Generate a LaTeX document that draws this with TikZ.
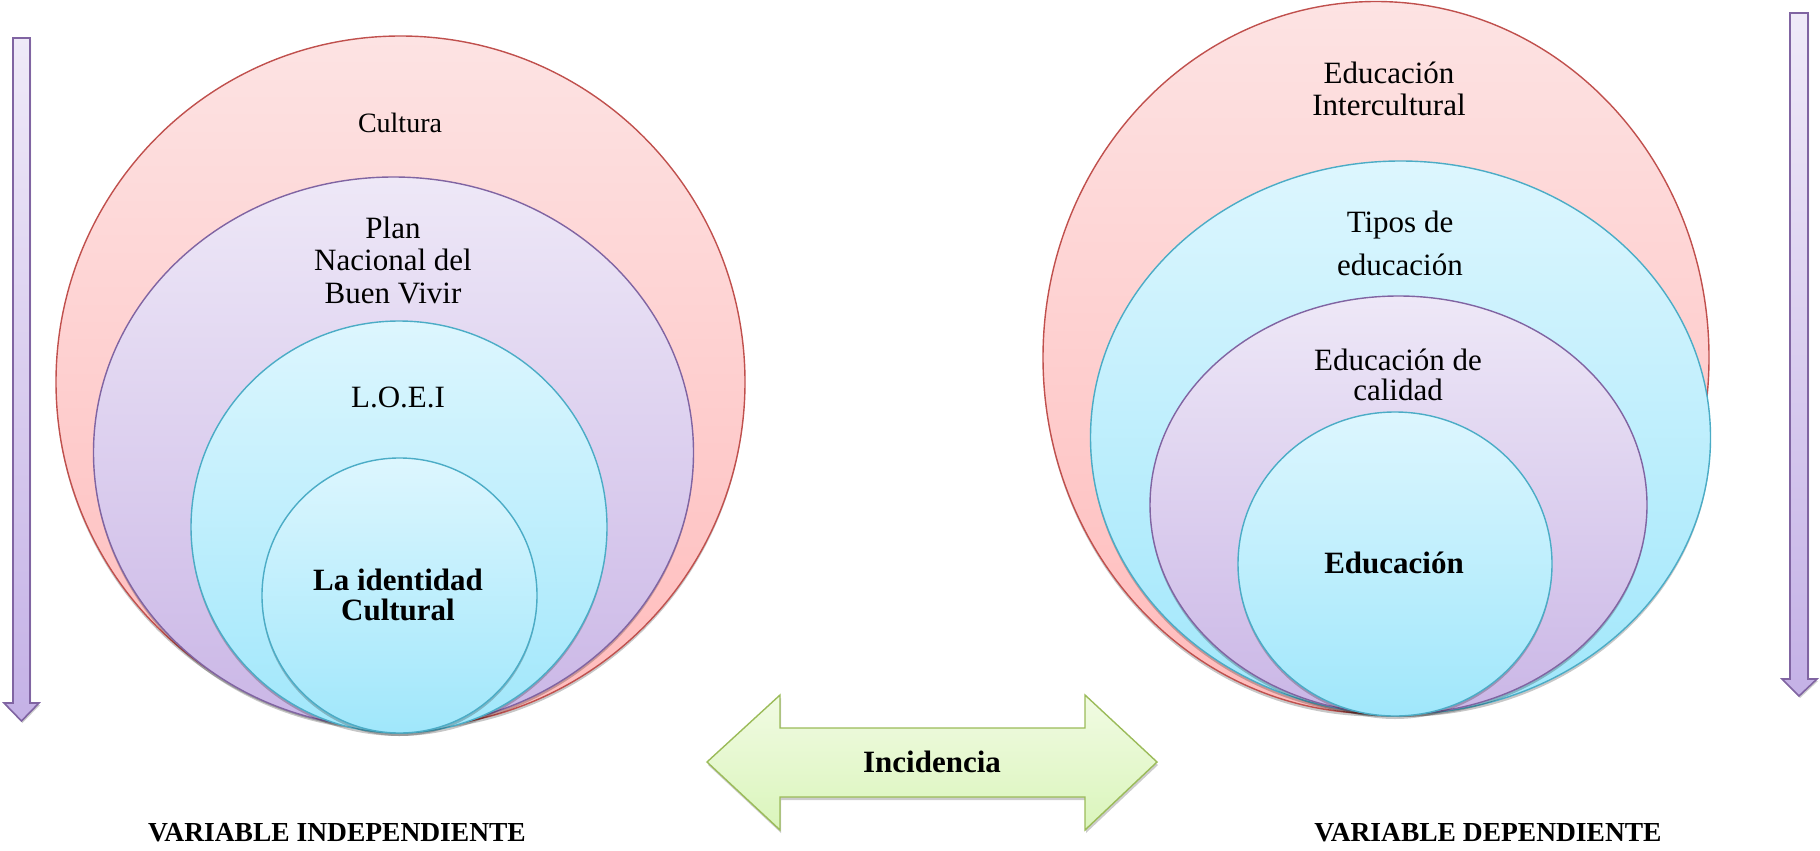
\documentclass[tikz,border=0pt]{standalone}
\usepackage{fontspec}
\setmainfont{Liberation Serif}
\usetikzlibrary{shapes.geometric,shadows}
\definecolor{redB}{HTML}{C0504D}
\definecolor{redT}{HTML}{FDE3E3}
\definecolor{redL}{HTML}{FFBBBB}
\definecolor{purB}{HTML}{8064A2}
\definecolor{purT}{HTML}{EEE8F7}
\definecolor{purL}{HTML}{CAB6E6}
\definecolor{cyaB}{HTML}{4BACC6}
\definecolor{cyaT}{HTML}{DDF6FE}
\definecolor{cyaL}{HTML}{A0E7FB}
\definecolor{grnB}{HTML}{9BBB59}
\definecolor{grnT}{HTML}{F1FBE3}
\definecolor{grnL}{HTML}{DAF5BB}
\definecolor{arwT}{HTML}{EFEAF8}
\definecolor{arwL}{HTML}{C4B1E6}
\begin{document}
\begin{tikzpicture}[x=1pt,y=-1pt,
  ring/.style={ellipse, inner sep=0pt, line width=1.4pt,
    drop shadow={shadow xshift=0pt, shadow yshift=-3pt, opacity=0.22, fill=black}},
  redring/.style={ring, draw=redB, top color=redT, bottom color=redL},
  purring/.style={ring, draw=purB, top color=purT, bottom color=purL},
  cyaring/.style={ring, draw=cyaB, top color=cyaT, bottom color=cyaL},
  lbl/.style={align=center, inner sep=0pt, font=\fontsize{31}{32.5}\selectfont},
  blbl/.style={lbl, font=\fontsize{31}{30}\selectfont\bfseries},
  varlbl/.style={inner sep=0pt, font=\fontsize{27.5}{30}\selectfont\bfseries},
  downarrow/.style={draw=purB, line width=1.6pt, top color=arwT, bottom color=arwL,
    drop shadow={shadow xshift=1pt, shadow yshift=-2pt, opacity=0.2, fill=black}},
  twoarrow/.style={draw=grnB, line width=1.4pt, top color=grnT, bottom color=grnL,
    drop shadow={shadow xshift=1pt, shadow yshift=-3pt, opacity=0.2, fill=black}}
]
\useasboundingbox (0,0) rectangle (1820,851);

% ---------- left vertical arrow ----------
\path[downarrow] (13,38) -- (30,38) -- (30,703) -- (39,703) -- (21.5,721)
  -- (4,703) -- (13,703) -- cycle;
% ---------- right vertical arrow ----------
\path[downarrow] (1790,13) -- (1808,13) -- (1808,679) -- (1817,679) -- (1799,696)
  -- (1782,679) -- (1790,679) -- cycle;

% ---------- left nested ellipses ----------
\node[redring, minimum width=689pt, minimum height=692pt] (cultura) at (400.5,382) {};
\node[purring, minimum width=600pt, minimum height=551pt] (plan) at (393.5,452.5) {};
\node[cyaring, minimum width=416pt, minimum height=412pt] (loei) at (399,527) {};
\node[cyaring, minimum width=275pt, minimum height=275pt] (ident) at (399.5,595.5) {};

\node[lbl, font=\fontsize{28}{30}\selectfont] (tcultura) at (400,123) {Cultura};
\node[lbl] (tplan) at (393,260) {Plan\\Nacional del\\Buen Vivir};
\node[lbl] (tloei) at (398,397) {L.O.E.I};
\node[blbl] (tident) at (398,595) {La identidad\\Cultural};

% ---------- right nested ellipses ----------
\node[redring, minimum width=666pt, minimum height=712pt] (interc) at (1376,357.5) {};
\node[cyaring, minimum width=620pt, minimum height=553pt] (tipos) at (1400.5,437.5) {};
\node[purring, minimum width=497pt, minimum height=418pt] (calidad) at (1398.5,505) {};
\node[cyaring, minimum width=314pt, minimum height=304pt] (educ) at (1395,564) {};

\node[lbl] (tinterc) at (1389,89) {Educación\\Intercultural};
\node[lbl, font=\fontsize{31}{43}\selectfont] (ttipos) at (1400,243) {Tipos de\\educación};
\node[lbl, font=\fontsize{31}{30}\selectfont] (tcalidad) at (1398,375) {Educación de\\calidad};
\node[blbl] (teduc) at (1394,563) {Educación};

% ---------- double arrow ----------
\path[twoarrow] (707,762) -- (780,695) -- (780,728) -- (1085,728) -- (1085,695)
  -- (1157,762) -- (1085,830) -- (1085,797) -- (780,797) -- (780,830) -- cycle;
\node[blbl] (tinc) at (932,762) {Incidencia};

% ---------- bottom labels ----------
\node[varlbl] (vind) at (337,833) {VARIABLE INDEPENDIENTE};
\node[varlbl] (vdep) at (1488,833) {VARIABLE DEPENDIENTE};
\end{tikzpicture}
\end{document}
